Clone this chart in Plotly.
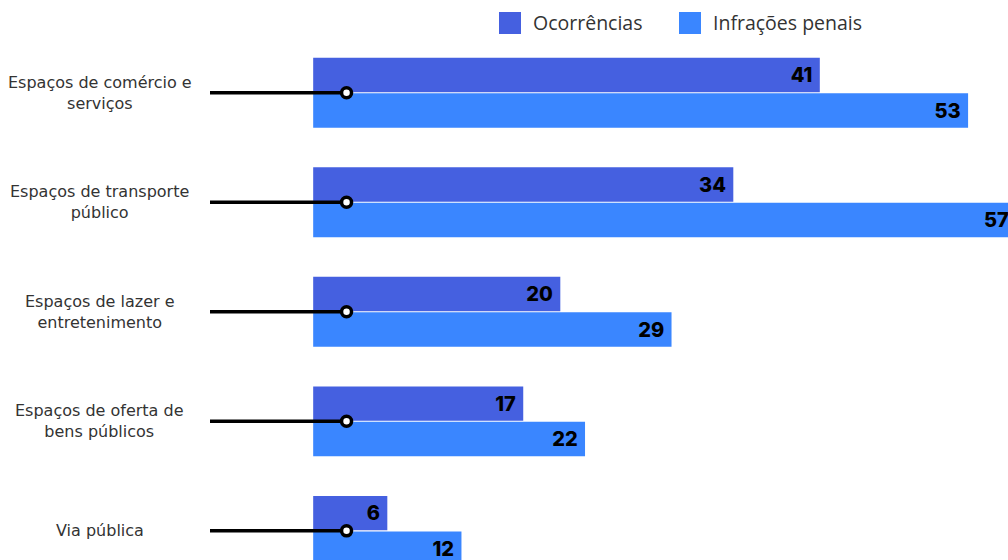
import plotly.graph_objects as go

# Data
categorias = [
    "Espaços de comércio e<br>serviços",
    "Espaços de transporte<br>público",
    "Espaços de lazer e<br>entretenimento",
    "Espaços de oferta de<br>bens públicos",
    "Via pública",
]
ocorrencias = [41, 34, 20, 17, 6]
infracoes = [53, 57, 29, 22, 12]
series_nomes = ["Ocorrências", "Infrações penais"]

# Style
COR_OCORR = "#4560E0"
COR_INFR = "#3A86FF"
FONTE_VALOR = dict(family="Inter", size=20, color="black", weight=800)
LEADER_START = -8.35   # left end of the connector line (x units)
LEADER_DOT = 2.7       # connector dot position (x units)
X_MAX = 56.23          # visible end of the value axis
X_RANGE = [LEADER_START, X_MAX]

fig = go.Figure()

for nome, vals, cor in [(series_nomes[0], ocorrencias, COR_OCORR),
                        (series_nomes[1], infracoes, COR_INFR)]:
    fig.add_trace(go.Bar(
        y=categorias, x=vals, orientation="h", name=nome,
        marker=dict(color=cor, line=dict(width=0)),
        text=[f"{v}\u00a0" if v <= X_MAX else "" for v in vals],
        textposition="inside", insidetextanchor="end",
        textfont=FONTE_VALOR,
        constraintext="none", cliponaxis=False,
        showlegend=False,
    ))

# Labels for bars running past the right edge: placed at the bar's end
# (converted to paper units) so they get cut by the edge of the figure.
for cat, v in zip(categorias, infracoes):
    if v > X_MAX:
        fig.add_annotation(
            x=(v - X_RANGE[0]) / (X_RANGE[1] - X_RANGE[0]), xref="paper",
            y=cat, yref="y", yshift=-18, xshift=-7,
            text=str(v), showarrow=False, xanchor="right", yanchor="middle",
            font=FONTE_VALOR,
        )

# Connector lines with dots
lx, ly = [], []
for c in categorias:
    lx += [LEADER_START, LEADER_DOT, None]
    ly += [c, c, None]
fig.add_trace(go.Scatter(
    x=lx, y=ly, mode="lines", line=dict(color="black", width=3.5),
    cliponaxis=False, showlegend=False, hoverinfo="skip",
))
fig.add_trace(go.Scatter(
    x=[LEADER_DOT] * len(categorias), y=categorias, mode="markers",
    marker=dict(symbol="circle", size=10, color="white",
                line=dict(color="black", width=3.5)),
    cliponaxis=False, showlegend=False, hoverinfo="skip",
))

# Category labels
for c in categorias:
    fig.add_annotation(
        x=-0.138, xref="paper", y=c, yref="y", text=c, showarrow=False,
        xanchor="center", yanchor="middle", align="center",
        font=dict(family="DejaVu Sans", size=16, color="#333333"),
    )

# Legend drawn as swatches + labels
leg = [(series_nomes[0], COR_OCORR, 499), (series_nomes[1], COR_INFR, 679)]
for nome, cor, px in leg:
    x0 = (px - 210) / 798
    fig.add_shape(type="rect", xref="paper", yref="paper",
                  x0=x0, x1=x0 + 22 / 798, y0=1 + 4 / 522, y1=1 + 26 / 522,
                  fillcolor=cor, line=dict(width=0))
    fig.add_annotation(
        x=x0 + 32 / 798, xref="paper", y=1 + 15 / 522, yref="paper",
        text=nome, showarrow=False, xanchor="left", yanchor="middle",
        font=dict(family="Open Sans", size=19.5, color="#333333"),
    )

fig.update_layout(
    width=1008, height=560,
    margin=dict(l=210, r=0, t=38, b=0),
    paper_bgcolor="white", plot_bgcolor="white",
    barmode="group", bargap=0.352, bargroupgap=0.03,
    xaxis=dict(range=X_RANGE, visible=False, fixedrange=True),
    yaxis=dict(type="category", categoryorder="array", categoryarray=categorias,
               range=[4.266, -0.5], visible=False, fixedrange=True),
    uniformtext=dict(mode=False),
)

fig.write_html("out.html")
